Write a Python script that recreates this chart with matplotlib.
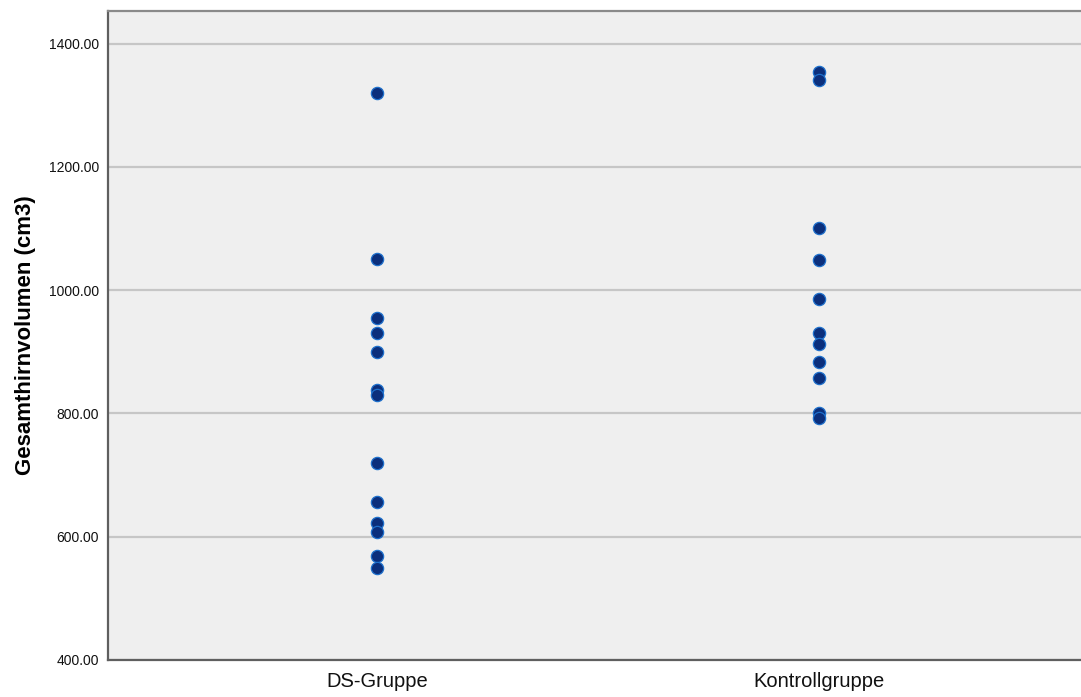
import matplotlib
matplotlib.use("Agg")
import matplotlib.pyplot as plt
import numpy as np

plt.rcParams['font.family'] = ['Liberation Sans', 'DejaVu Sans']

# Gruppen und Gesamthirnvolumen (cm3)
groups = ['DS-Gruppe', 'Kontrollgruppe']
ds_values = [1320, 1050, 954, 930, 900, 838, 830, 719, 657, 622, 608, 568, 549]
kontroll_values = [1354, 1340, 1100, 1049, 985, 931, 913, 884, 858, 800, 792]
y_ticks = [400, 600, 800, 1000, 1200, 1400]

fig = plt.figure(figsize=(10.81, 6.97), dpi=100)
ax = fig.add_axes([0.0995, 0.0531, 0.9005, 0.9318])
ax.set_facecolor('#efefef')

for i, vals in enumerate([ds_values, kontroll_values]):
    ax.scatter(np.full(len(vals), i), vals, s=78, color='#0b2f7c',
               edgecolors='#1e70cc', linewidths=0.9, zorder=3)

ax.set_xlim(-0.609, 1.593)
ax.set_ylim(400, 1453.5)
ax.set_xticks([0, 1])
ax.set_xticklabels(groups, fontsize=14.5, color='#111111')
ax.set_yticks(y_ticks)
ax.set_yticklabels([f'{v:.2f}' for v in y_ticks], fontsize=10, color='#111111')
ax.tick_params(axis='both', length=0)
ax.tick_params(axis='x', pad=9)
ax.tick_params(axis='y', pad=6)

# horizontale Gitterlinien
ax.yaxis.grid(True, color='#c6c6c6', linewidth=1.6)
ax.set_axisbelow(True)

for side in ['left', 'bottom', 'top']:
    ax.spines[side].set_color('#5f5f5f')
    ax.spines[side].set_linewidth(1.6)
ax.spines['top'].set_color('#8a8a8a')
ax.spines['right'].set_visible(False)

ax.set_ylabel('Gesamthirnvolumen (cm3)', fontsize=16, fontweight='bold', labelpad=9)

fig.savefig('out.png', dpi=100)
